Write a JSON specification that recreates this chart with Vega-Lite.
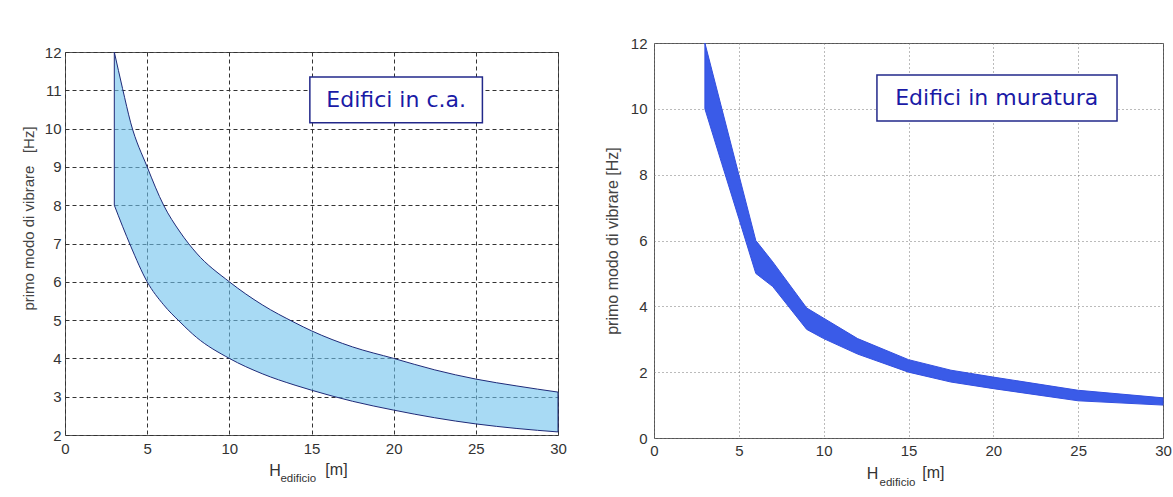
{
  "$schema": "https://vega.github.io/schema/vega-lite/v6.json",
  "background": "white",
  "padding": {"left": 20, "top": 35, "right": 5, "bottom": 5},
  "spacing": 36,
  "config": {
    "view": {"stroke": "#555", "strokeWidth": 1},
    "font": "Liberation Sans",
    "axis": {"labelFont": "Liberation Sans", "labelColor": "#333", "labelFontSize": 15, "titleFont": "Liberation Sans", "titleFontWeight": "normal", "titleColor": "#444", "domain": false, "ticks": false, "labelFlush": false, "labelOverlap": false, "gridOpacity": 1}
  },
  "datasets": {
    "ca": [
      {"h": 3, "lo": 8, "hi": 12},
      {"h": 3.5, "lo": 7.45, "hi": 11.05},
      {"h": 4, "lo": 6.93, "hi": 10.15},
      {"h": 5, "lo": 6.0, "hi": 9.0},
      {"h": 6, "lo": 5.4, "hi": 8.0},
      {"h": 7, "lo": 4.95, "hi": 7.3},
      {"h": 8, "lo": 4.55, "hi": 6.75},
      {"h": 10, "lo": 4.0, "hi": 6.0},
      {"h": 12, "lo": 3.6, "hi": 5.4},
      {"h": 14, "lo": 3.3, "hi": 4.93},
      {"h": 15, "lo": 3.17, "hi": 4.72},
      {"h": 17.5, "lo": 2.88, "hi": 4.3},
      {"h": 20, "lo": 2.65, "hi": 4.0},
      {"h": 22.5, "lo": 2.45, "hi": 3.7},
      {"h": 25, "lo": 2.29, "hi": 3.46},
      {"h": 27.5, "lo": 2.17, "hi": 3.28},
      {"h": 30, "lo": 2.08, "hi": 3.12}
    ],
    "mur": [
      {"h": 3, "lo": 10, "hi": 12},
      {"h": 4, "lo": 8.33, "hi": 10},
      {"h": 5, "lo": 6.67, "hi": 8},
      {"h": 6, "lo": 5.0, "hi": 6.0},
      {"h": 7, "lo": 4.6, "hi": 5.35},
      {"h": 8, "lo": 3.95, "hi": 4.65},
      {"h": 9, "lo": 3.3, "hi": 3.95},
      {"h": 10, "lo": 3.02, "hi": 3.64},
      {"h": 12, "lo": 2.55, "hi": 3.02},
      {"h": 15, "lo": 2.0, "hi": 2.38},
      {"h": 17.5, "lo": 1.7, "hi": 2.06},
      {"h": 20, "lo": 1.5, "hi": 1.85},
      {"h": 25, "lo": 1.13, "hi": 1.45},
      {"h": 30, "lo": 1.0, "hi": 1.22}
    ]
  },
  "hconcat": [
    {
      "spacing": 0,
      "vconcat": [
        {
          "width": 493,
          "height": 1,
          "view": {"stroke": null},
          "data": {"values": []},
          "mark": "point"
        },
        {
          "width": 493,
          "height": 383,
          "layer": [
            {
              "data": {"name": "ca"},
              "mark": {"type": "area", "interpolate": "monotone", "fill": "#6ec1ed", "fillOpacity": 0.6, "stroke": "#1e2a78", "strokeWidth": 1},
              "encoding": {
                "x": {"field": "h", "type": "quantitative", "scale": {"domain": [0, 30], "nice": false},
                      "axis": {"values": [0, 5, 10, 15, 20, 25, 30], "title": null, "labelPadding": 6, "gridDash": [4, 3], "gridColor": "#333"}},
                "y": {"field": "hi", "type": "quantitative", "scale": {"domain": [2, 12], "nice": false},
                      "axis": {"values": [2, 3, 4, 5, 6, 7, 8, 9, 10, 11, 12], "title": "primo modo di vibrare\u00a0\u00a0\u00a0[Hz]", "titleFontSize": 15, "titleX": -37, "titleY": 166, "titleBaseline": "middle", "labelPadding": 4, "gridDash": [4, 3], "gridColor": "#333"}},
                "y2": {"field": "lo"}
              }
            },
            {
              "data": {"values": [{"label": "Edifici in c.a."}]},
              "mark": {"type": "rect", "fill": "white", "stroke": "#22288a", "strokeWidth": 1.5},
              "encoding": {
                "x": {"datum": 14.9, "axis": {"values": [0, 5, 10, 15, 20, 25, 30], "title": null, "labelPadding": 6, "gridDash": [4, 3], "gridColor": "#333"}},
                "x2": {"datum": 25.4},
                "y": {"datum": 11.35, "axis": {"values": [2, 3, 4, 5, 6, 7, 8, 9, 10, 11, 12], "title": "primo modo di vibrare\u00a0\u00a0\u00a0[Hz]", "titleFontSize": 15, "titleX": -37, "titleY": 166, "titleBaseline": "middle", "labelPadding": 4, "gridDash": [4, 3], "gridColor": "#333"}},
                "y2": {"datum": 10.15}
              }
            },
            {
              "data": {"values": [{"label": "Edifici in c.a."}]},
              "mark": {"type": "text", "font": "DejaVu Sans", "fontSize": 22, "color": "#1a1aa6", "baseline": "middle"},
              "encoding": {
                "x": {"datum": 20.15, "axis": {"values": [0, 5, 10, 15, 20, 25, 30], "title": null, "labelPadding": 6, "gridDash": [4, 3], "gridColor": "#333"}},
                "y": {"datum": 10.75, "axis": {"values": [2, 3, 4, 5, 6, 7, 8, 9, 10, 11, 12], "title": "primo modo di vibrare\u00a0\u00a0\u00a0[Hz]", "titleFontSize": 15, "titleX": -37, "titleY": 166, "titleBaseline": "middle", "labelPadding": 4, "gridDash": [4, 3], "gridColor": "#333"}},
                "text": {"field": "label"}
              }
            },
            {
              "data": {"values": [{"label": "H"}]},
              "mark": {"type": "text", "fontSize": 16, "color": "#333", "baseline": "middle", "dy": 36},
              "encoding": {
                "x": {"datum": 12.78, "axis": {"values": [0, 5, 10, 15, 20, 25, 30], "title": null, "labelPadding": 6, "gridDash": [4, 3], "gridColor": "#333"}},
                "y": {"datum": 2, "axis": {"values": [2, 3, 4, 5, 6, 7, 8, 9, 10, 11, 12], "title": "primo modo di vibrare\u00a0\u00a0\u00a0[Hz]", "titleFontSize": 15, "titleX": -37, "titleY": 166, "titleBaseline": "middle", "labelPadding": 4, "gridDash": [4, 3], "gridColor": "#333"}},
                "text": {"field": "label"}
              }
            },
            {
              "data": {"values": [{"label": "edificio"}]},
              "mark": {"type": "text", "fontSize": 11.5, "color": "#333", "baseline": "middle", "dy": 44},
              "encoding": {
                "x": {"datum": 14.2, "axis": {"values": [0, 5, 10, 15, 20, 25, 30], "title": null, "labelPadding": 6, "gridDash": [4, 3], "gridColor": "#333"}},
                "y": {"datum": 2, "axis": {"values": [2, 3, 4, 5, 6, 7, 8, 9, 10, 11, 12], "title": "primo modo di vibrare\u00a0\u00a0\u00a0[Hz]", "titleFontSize": 15, "titleX": -37, "titleY": 166, "titleBaseline": "middle", "labelPadding": 4, "gridDash": [4, 3], "gridColor": "#333"}},
                "text": {"field": "label"}
              }
            },
            {
              "data": {"values": [{"label": "[m]"}]},
              "mark": {"type": "text", "fontSize": 16, "color": "#333", "baseline": "middle", "dy": 35},
              "encoding": {
                "x": {"datum": 16.52, "axis": {"values": [0, 5, 10, 15, 20, 25, 30], "title": null, "labelPadding": 6, "gridDash": [4, 3], "gridColor": "#333"}},
                "y": {"datum": 2, "axis": {"values": [2, 3, 4, 5, 6, 7, 8, 9, 10, 11, 12], "title": "primo modo di vibrare\u00a0\u00a0\u00a0[Hz]", "titleFontSize": 15, "titleX": -37, "titleY": 166, "titleBaseline": "middle", "labelPadding": 4, "gridDash": [4, 3], "gridColor": "#333"}},
                "text": {"field": "label"}
              }
            }
          ]
        }
      ]
    },
    {
      "width": 509,
      "height": 395,
      "layer": [
        {
          "data": {"name": "mur"},
          "mark": {"type": "area", "interpolate": "linear", "fill": "#3a5be8", "stroke": "#3450e0", "strokeWidth": 1},
          "encoding": {
            "x": {"field": "h", "type": "quantitative", "scale": {"domain": [0, 30], "nice": false},
                  "axis": {"values": [0, 5, 10, 15, 20, 25, 30], "title": null, "labelPadding": 5, "gridDash": [1, 3], "gridColor": "#777"}},
            "y": {"field": "hi", "type": "quantitative", "scale": {"domain": [0, 12], "nice": false},
                  "axis": {"values": [0, 2, 4, 6, 8, 10, 12], "title": "primo modo di vibrare [Hz]", "titleFontSize": 16, "titleX": -42, "titleY": 197.5, "titleBaseline": "middle", "labelPadding": 7, "gridDash": [1, 3], "gridColor": "#777"}},
            "y2": {"field": "lo"}
          }
        },
        {
          "data": {"values": [{"label": "Edifici in muratura"}]},
          "mark": {"type": "rect", "fill": "white", "stroke": "#22288a", "strokeWidth": 1.5},
          "encoding": {
            "x": {"datum": 13.14, "axis": {"values": [0, 5, 10, 15, 20, 25, 30], "title": null, "labelPadding": 5, "gridDash": [1, 3], "gridColor": "#777"}},
            "x2": {"datum": 27.29},
            "y": {"datum": 11.03, "axis": {"values": [0, 2, 4, 6, 8, 10, 12], "title": "primo modo di vibrare [Hz]", "titleFontSize": 16, "titleX": -42, "titleY": 197.5, "titleBaseline": "middle", "labelPadding": 7, "gridDash": [1, 3], "gridColor": "#777"}},
            "y2": {"datum": 9.63}
          }
        },
        {
          "data": {"values": [{"label": "Edifici in muratura"}]},
          "mark": {"type": "text", "font": "DejaVu Sans", "fontSize": 22, "color": "#1a1aa6", "baseline": "middle"},
          "encoding": {
            "x": {"datum": 20.2, "axis": {"values": [0, 5, 10, 15, 20, 25, 30], "title": null, "labelPadding": 5, "gridDash": [1, 3], "gridColor": "#777"}},
            "y": {"datum": 10.33, "axis": {"values": [0, 2, 4, 6, 8, 10, 12], "title": "primo modo di vibrare [Hz]", "titleFontSize": 16, "titleX": -42, "titleY": 197.5, "titleBaseline": "middle", "labelPadding": 7, "gridDash": [1, 3], "gridColor": "#777"}},
            "text": {"field": "label"}
          }
        },
        {
          "data": {"values": [{"label": "H"}]},
          "mark": {"type": "text", "fontSize": 16, "color": "#333", "baseline": "middle", "dy": 36},
          "encoding": {
            "x": {"datum": 12.88, "axis": {"values": [0, 5, 10, 15, 20, 25, 30], "title": null, "labelPadding": 5, "gridDash": [1, 3], "gridColor": "#777"}},
            "y": {"datum": 0, "axis": {"values": [0, 2, 4, 6, 8, 10, 12], "title": "primo modo di vibrare [Hz]", "titleFontSize": 16, "titleX": -42, "titleY": 197.5, "titleBaseline": "middle", "labelPadding": 7, "gridDash": [1, 3], "gridColor": "#777"}},
            "text": {"field": "label"}
          }
        },
        {
          "data": {"values": [{"label": "edificio"}]},
          "mark": {"type": "text", "fontSize": 11.5, "color": "#333", "baseline": "middle", "dy": 45},
          "encoding": {
            "x": {"datum": 14.35, "axis": {"values": [0, 5, 10, 15, 20, 25, 30], "title": null, "labelPadding": 5, "gridDash": [1, 3], "gridColor": "#777"}},
            "y": {"datum": 0, "axis": {"values": [0, 2, 4, 6, 8, 10, 12], "title": "primo modo di vibrare [Hz]", "titleFontSize": 16, "titleX": -42, "titleY": 197.5, "titleBaseline": "middle", "labelPadding": 7, "gridDash": [1, 3], "gridColor": "#777"}},
            "text": {"field": "label"}
          }
        },
        {
          "data": {"values": [{"label": "[m]"}]},
          "mark": {"type": "text", "fontSize": 16, "color": "#333", "baseline": "middle", "dy": 35},
          "encoding": {
            "x": {"datum": 16.47, "axis": {"values": [0, 5, 10, 15, 20, 25, 30], "title": null, "labelPadding": 5, "gridDash": [1, 3], "gridColor": "#777"}},
            "y": {"datum": 0, "axis": {"values": [0, 2, 4, 6, 8, 10, 12], "title": "primo modo di vibrare [Hz]", "titleFontSize": 16, "titleX": -42, "titleY": 197.5, "titleBaseline": "middle", "labelPadding": 7, "gridDash": [1, 3], "gridColor": "#777"}},
            "text": {"field": "label"}
          }
        }
      ]
    }
  ]
}
